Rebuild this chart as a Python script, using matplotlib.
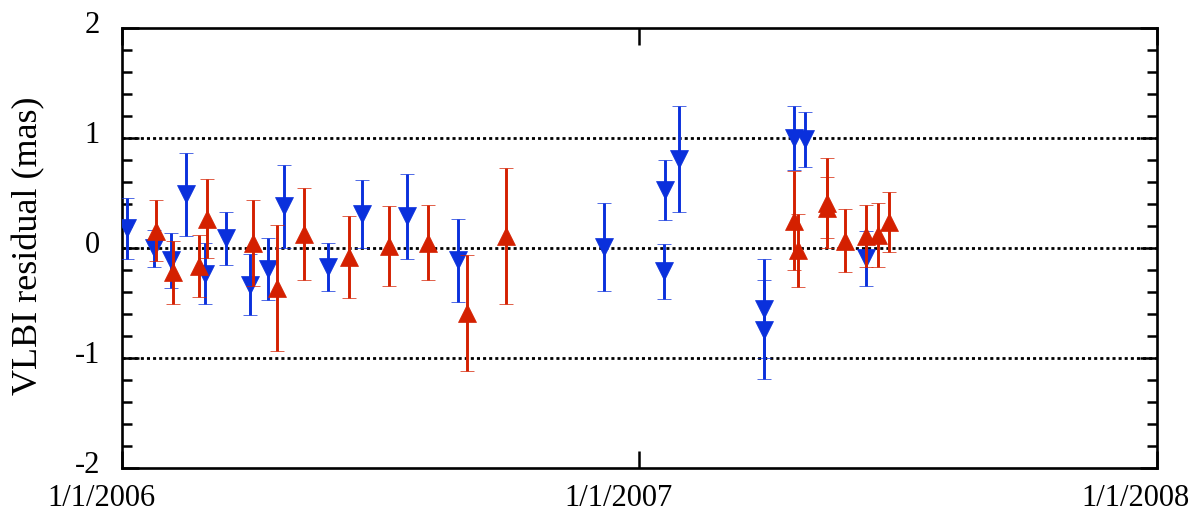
import numpy as np
import matplotlib
matplotlib.use("Agg")
import matplotlib.pyplot as plt
import matplotlib.transforms as mtransforms
from matplotlib.ticker import MultipleLocator

plt.rcParams['font.family'] = ['Liberation Serif', 'DejaVu Serif']

# blue (down triangles)
blue_dates = ["2006-01-04", "2006-01-23", "2006-02-04", "2006-02-15", "2006-02-28",
              "2006-03-15", "2006-04-01", "2006-04-14", "2006-04-25", "2006-05-26",
              "2006-06-19", "2006-07-21", "2006-08-26", "2006-12-07", "2007-01-18",
              "2007-01-19", "2007-01-29", "2007-03-30", "2007-03-30", "2007-04-20",
              "2007-04-28", "2007-06-10"]
blue_res = [0.18, 0.00, -0.11, 0.49, -0.23, 0.09, -0.33, -0.19, 0.38, -0.17,
            0.31, 0.29, -0.11, 0.01, -0.21, 0.53, 0.81, -0.55, -0.74, 1.00,
            0.99, -0.09]
blue_err = [0.28, 0.17, 0.25, 0.38, 0.28, 0.24, 0.28, 0.28, 0.38, 0.22,
            0.31, 0.39, 0.38, 0.40, 0.25, 0.27, 0.48, 0.45, 0.45, 0.29,
            0.25, 0.25]

# red (up triangles)
red_dates = ["2006-01-25", "2006-02-06", "2006-02-24", "2006-03-02", "2006-04-03",
             "2006-04-20", "2006-05-09", "2006-06-10", "2006-07-08", "2006-08-05",
             "2006-09-01", "2006-09-29", "2007-04-20", "2007-04-23", "2007-05-13",
             "2007-05-13", "2007-05-26", "2007-06-10", "2007-06-18", "2007-06-26"]
red_res = [0.16, -0.22, -0.16, 0.27, 0.05, -0.36, 0.13, -0.08, 0.02, 0.05,
           -0.59, 0.11, 0.25, -0.02, 0.41, 0.37, 0.07, 0.11, 0.12, 0.24]
red_err = [0.28, 0.29, 0.28, 0.36, 0.39, 0.57, 0.42, 0.37, 0.36, 0.34,
           0.53, 0.62, 0.45, 0.33, 0.41, 0.28, 0.29, 0.28, 0.29, 0.27]

xtick_dates = ["2006-01-01", "2007-01-01", "2008-01-01"]
xtick_labels = ["1/1/2006", "1/1/2007", "1/1/2008"]
ytick_vals = [-2, -1, 0, 1, 2]

blue = "#0a30dc"
red = "#d42000"

fig = plt.figure(figsize=(11.97, 5.12), dpi=100)
ax = fig.add_axes([0.1022, 0.0854, 0.8641, 0.8593])

for yv in [-1, 0, 1]:
    ax.axhline(yv, color="black", lw=2.0, ls=(0, (1.1, 1.1)), zorder=1)

ax.errorbar(np.array(blue_dates, dtype="datetime64[D]"), blue_res, yerr=blue_err,
            fmt="v", color=blue, ms=13, markeredgecolor=blue, markeredgewidth=0.5,
            capsize=5, elinewidth=2.1, capthick=2.1, zorder=3)
ax.errorbar(np.array(red_dates, dtype="datetime64[D]"), red_res, yerr=red_err,
            fmt="^", color=red, ms=13, markeredgecolor=red, markeredgewidth=0.5,
            capsize=5, elinewidth=2.1, capthick=2.1, zorder=4)

xt = np.array(xtick_dates, dtype="datetime64[D]")
ax.set_xlim(xt[0], xt[-1])
ax.set_ylim(-2, 2)
ax.set_xticks(xt)
ax.set_xticklabels(xtick_labels)
ax.set_yticks(ytick_vals)
ax.set_yticklabels([str(v) for v in ytick_vals])
ax.yaxis.set_minor_locator(MultipleLocator(0.2))

ax.tick_params(which="major", direction="in", length=12, width=1.8, top=True, right=True,
               labelsize=22, pad=11)
ax.tick_params(axis="y", which="major", pad=16)
ax.tick_params(which="minor", direction="in", length=7, width=1.8, right=True)
for s in ax.spines.values():
    s.set_linewidth(1.9)

# gnuplot-like label placement
xoff = mtransforms.ScaledTranslation(-0.21, 0, fig.dpi_scale_trans)
for lab in ax.get_xticklabels():
    lab.set_transform(lab.get_transform() + xoff)
yoff = mtransforms.ScaledTranslation(0, 0.06, fig.dpi_scale_trans)
for lab in ax.get_yticklabels():
    lab.set_transform(lab.get_transform() + yoff)

fig.text(29 / 1197, 1 - 246 / 512, "VLBI residual (mas)", rotation=90,
         ha="center", va="center", fontsize=26)

fig.savefig("out.png", dpi=100)
